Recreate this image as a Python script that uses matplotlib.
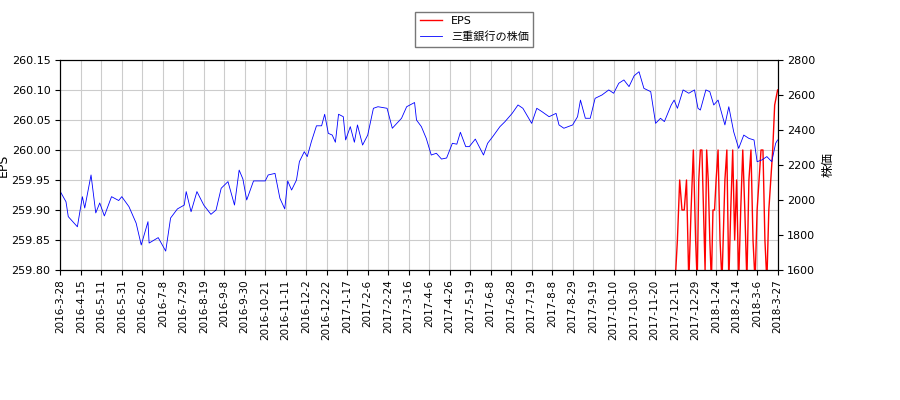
import matplotlib
matplotlib.use("Agg")
import matplotlib.pyplot as plt
import numpy as np
import pandas as pd

plt.rcParams['font.family'] = ['DejaVu Sans', 'Noto Sans CJK JP']

start = pd.Timestamp('2016-03-28')
price_days = [0,5,7,15,20,23,31,37,42,47,54,61,64,71,78,83,89,90,98,105,110,117,124,126,131,137,144,151,156,161,168,175,180,184,188,195,207,210,217,222,227,230,234,239,242,247,250,254,259,264,267,271,276,280,284,290,293,298,302,305,310,315,320,324,332,337,346,351,359,361,366,
              371,376,381,386,391,397,402,406,412,416,422,430,434,439,446,451,458,464,469,473,478,483,488,495,502,505,510,519,524,527,532,537,542,549,556,561,566,571,576,581,586,591,598,603,608,612,619,622,625,630,635,640,644,647,654,659,664,669,676,680,685,690,695,700,705,708,713,718,723,727,730]
price = [2048,1990,1905,1847,2019,1954,2143,1926,1983,1909,2019,1997,2019,1962,1868,1743,1876,1754,1785,1708,1897,1949,1971,2048,1933,2048,1971,1918,1943,2067,2105,1971,2171,2120,2000,2109,2109,2143,2152,2010,1949,2109,2057,2114,2219,2276,2248,2333,2424,2424,2490,2381,2371,2330,2490,2476,2343,2419,2330,2429,2314,2371,2524,2533,2524,2410,2467,2533,2557,2457,2419,
         2352,2257,2267,2234,2240,2324,2319,2387,2305,2305,2348,2257,2324,2362,2419,2448,2495,2543,2524,2486,2438,2524,2505,2476,2495,2429,2410,2429,2476,2571,2467,2467,2581,2600,2629,2610,2667,2686,2648,2710,2733,2638,2619,2438,2467,2448,2543,2571,2524,2629,2610,2629,2524,2514,2629,2619,2543,2571,2429,2533,2390,2295,2371,2352,2343,2219,2229,2248,2219,2324,2343]
eps = [259.78,259.85,259.95,259.90,259.90,259.95,259.78,259.90,260.00,259.85,259.78,259.95,260.00,260.00,259.90,259.80,260.00,259.95,259.85,259.78,259.90,259.90,259.95,260.00,259.85,259.78,259.95,260.00,259.78,259.90,260.00,259.85,259.95,259.78,259.90,260.00,259.90,259.78,259.95,260.00,259.85,259.78,259.90,259.95,260.00,260.00,259.85,259.78,259.90,259.95,260.00,260.075,260.10]
tick_labels = ['2016-3-28','2016-4-15','2016-5-11','2016-5-31','2016-6-20','2016-7-8','2016-7-29','2016-8-19','2016-9-8','2016-9-30','2016-10-21','2016-11-11','2016-12-2','2016-12-22','2017-1-17','2017-2-6','2017-2-24','2017-3-16','2017-4-6','2017-4-26','2017-5-19','2017-6-8','2017-6-28','2017-7-19','2017-8-8','2017-8-29','2017-9-19','2017-10-10','2017-10-30','2017-11-20','2017-12-11','2017-12-29','2018-1-24','2018-2-14','2018-3-6','2018-3-27']

tick_dates = pd.to_datetime(tick_labels)
tick_num = tick_dates.values.astype('datetime64[D]').astype(float)
def pos(dates):
    d = pd.DatetimeIndex(dates).values.astype('datetime64[D]').astype(float)
    return np.interp(d, tick_num, np.arange(len(tick_labels)))

price_dates = start + pd.to_timedelta(price_days, unit='D')
eps_dates = pd.date_range(start='2017-12-11', end='2018-03-27', periods=len(eps))

fig = plt.figure(figsize=(9, 4), dpi=100)
ax = fig.add_axes([0.067, 0.325, 0.797, 0.525])
ax2 = ax.twinx()
l1, = ax.plot(pos(eps_dates), eps, color='red', lw=1, label='EPS')
l2, = ax2.plot(pos(price_dates), price, color='blue', lw=0.6, label='三重銀行の株価')
ax.set_ylim(259.80, 260.15)
ax2.set_ylim(1600, 2800)
ax.set_xlim(0, len(tick_labels) - 1)
ax.set_xticks(np.arange(len(tick_labels)))
ax.set_xticklabels(tick_labels, rotation=90, fontsize=7.5)
ax.set_yticks([259.80,259.85,259.90,259.95,260.00,260.05,260.10,260.15])
ax.set_yticklabels(['%.2f' % v for v in ax.get_yticks()], fontsize=8)
ax2.set_yticks(range(1600, 2801, 200))
ax2.tick_params(labelsize=8)
ax.grid(True, color='#cccccc')
ax.set_ylabel('EPS', fontsize=9, labelpad=1)
ax2.set_ylabel('株価', fontsize=9)
fig.legend([l1, l2], ['EPS', '三重銀行の株価'], loc='upper center', bbox_to_anchor=(0.527, 0.985), fontsize=8, fancybox=False, edgecolor='#555555')
fig.savefig('out.png')
